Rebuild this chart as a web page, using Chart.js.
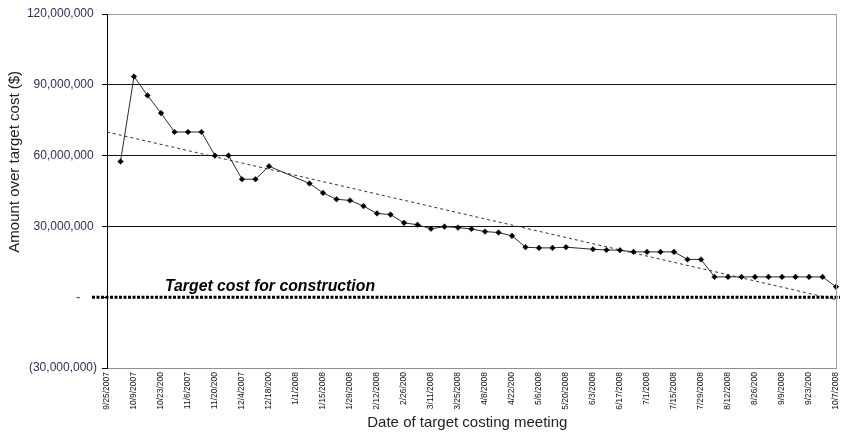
<!DOCTYPE html>
<html><head><meta charset="utf-8">
<script src="https://cdn.jsdelivr.net/npm/chart.js@4.4.0/dist/chart.umd.min.js"></script>
<style>html,body{margin:0;padding:0;background:#fff;}#wrap{width:841px;height:433px;position:relative;}canvas{display:block;}</style>
</head><body><div id="wrap"><canvas id="c" width="841" height="433" style="width:841px;height:433px"></canvas></div>
<script>
// Weekly meeting dates (category axis, one per week)
const weeks = ["9/25/2007","10/2/2007","10/9/2007","10/16/2007","10/23/2007","10/30/2007","11/6/2007","11/13/2007","11/20/2007","11/27/2007","12/4/2007","12/11/2007","12/18/2007","12/25/2007","1/1/2008","1/8/2008","1/15/2008","1/22/2008","1/29/2008","2/5/2008","2/12/2008","2/19/2008","2/26/2008","3/4/2008","3/11/2008","3/18/2008","3/25/2008","4/1/2008","4/8/2008","4/15/2008","4/22/2008","4/29/2008","5/6/2008","5/13/2008","5/20/2008","5/27/2008","6/3/2008","6/10/2008","6/17/2008","6/24/2008","7/1/2008","7/8/2008","7/15/2008","7/22/2008","7/29/2008","8/5/2008","8/12/2008","8/19/2008","8/26/2008","9/2/2008","9/9/2008","9/16/2008","9/23/2008","9/30/2008","10/7/2008"];
// Tick labels as printed (every second week)
const tickLabels = ["9/25/2007","10/9/2007","10/23/200","11/6/2007","11/20/200","12/4/2007","12/18/200","1/1/2008","1/15/2008","1/29/2008","2/12/2008","2/26/200","3/11/2008","3/25/2008","4/8/2008","4/22/200","5/6/2008","5/20/2008","6/3/2008","6/17/2008","7/1/2008","7/15/2008","7/29/2008","8/12/2008","8/26/200","9/9/2008","9/23/200","10/7/2008"];
// Amount over target cost ($), null = no meeting that week
const amountOver = [null,57500000,93500000,85500000,78000000,70000000,70000000,70000000,60000000,60000000,50000000,50000000,55500000,null,null,48200000,44200000,41500000,41000000,38600000,35500000,35000000,31500000,30700000,29000000,29900000,29500000,28900000,27800000,27400000,26000000,21200000,20900000,20900000,21200000,null,20300000,20000000,19900000,19200000,19200000,19200000,19200000,16000000,16000000,8600000,8600000,8600000,8600000,8600000,8600000,8600000,8600000,8600000,4400000];
// Linear trend line end values (first and last week)
const trendEnds = [70000000, -1000000];
const yTicks = [-30000000, 0, 30000000, 60000000, 90000000, 120000000];

const trendData = weeks.map((w, i) => i === 0 ? trendEnds[0] : (i === weeks.length - 1 ? trendEnds[1] : null));

function fmt(v) {
  const s = String(Math.abs(v)).replace(/\B(?=(\d{3})+(?!\d))/g, ',');
  if (v === 0) return '-     ';
  if (v < 0) return '(' + s + ')';
  return s + ' ';
}

const targetPlugin = {
  id: 'targetLine',
  afterDatasetsDraw(chart) {
    const {ctx, chartArea, scales} = chart;
    const y0 = scales.y.getPixelForValue(0);
    ctx.save();
    ctx.strokeStyle = '#000';
    ctx.lineWidth = 3;
    ctx.setLineDash([3, 1.5]);
    ctx.beginPath();
    ctx.moveTo(chartArea.left - 15, y0);
    ctx.lineTo(chartArea.right + 4, y0);
    ctx.stroke();
    ctx.setLineDash([]);
    ctx.fillStyle = '#000';
    ctx.font = 'italic bold 15.8px "Liberation Sans", Arial, sans-serif';
    ctx.textBaseline = 'alphabetic';
    ctx.textAlign = 'left';
    ctx.fillText('Target cost for construction', chartArea.left + 58, y0 - 6);
    ctx.strokeStyle = '#a0a0a0';
    ctx.lineWidth = 1;
    ctx.beginPath();
    ctx.moveTo(chartArea.right + 0.5, chartArea.top);
    ctx.lineTo(chartArea.right + 0.5, chartArea.bottom);
    ctx.stroke();
    ctx.restore();
  }
};

new Chart(document.getElementById('c'), {
  type: 'line',
  data: {
    labels: weeks,
    datasets: [
      {
        label: 'Amount over target cost',
        data: amountOver,
        borderColor: '#2a2a2a',
        borderWidth: 1,
        pointStyle: 'rectRot',
        pointRadius: 2.8,
        pointBackgroundColor: '#000',
        pointBorderColor: '#000',
        pointBorderWidth: 0.5,
        spanGaps: true,
        tension: 0
      },
      {
        label: 'Trend',
        data: trendData,
        borderColor: '#333',
        borderWidth: 1,
        borderDash: [3, 3],
        pointRadius: 0,
        spanGaps: true,
        tension: 0
      }
    ]
  },
  options: {
    responsive: false,
    animation: false,
    devicePixelRatio: 1,
    layout: { padding: { left: 0, right: 5, top: 14, bottom: 0 } },
    plugins: { legend: { display: false }, tooltip: { enabled: false } },
    scales: {
      x: {
        type: 'category',
        offset: false,
        grid: { display: false, drawTicks: false },
        border: { display: true, color: '#909090', width: 1 },
        ticks: {
          autoSkip: false,
          maxRotation: 90,
          minRotation: 90,
          padding: 4,
          color: '#111',
          font: { family: '"Liberation Sans", Arial, sans-serif', size: 8.5 },
          callback: function(val, idx) { return idx % 2 === 0 ? tickLabels[idx / 2] : ''; }
        },
        title: {
          display: true,
          text: 'Date of target costing meeting  ',
          color: '#222',
          font: { family: '"Liberation Sans", Arial, sans-serif', size: 15 },
          padding: { top: 0, bottom: 1 }
        },
        afterFit(scale) { scale.height = 65; scale.paddingLeft = 0; scale.paddingRight = 0; }
      },
      y: {
        min: -30000000,
        max: 120000000,
        afterBuildTicks(scale) { scale.ticks = yTicks.map(v => ({ value: v })); },
        grid: {
          color: (c) => {
            const v = c.tick && c.tick.value;
            if (v === 120000000) return '#a0a0a0';
            if (v === 0 || v === -30000000) return 'rgba(0,0,0,0)';
            return '#111';
          },
          tickColor: '#000',
          tickLength: 5,
          lineWidth: 1
        },
        border: { display: true, color: '#000', width: 1 },
        ticks: {
          autoSkip: false,
          padding: 5,
          color: '#2e2e5c',
          font: { family: '"Liberation Sans", Arial, sans-serif', size: 12 },
          callback: (v) => fmt(v)
        },
        title: {
          display: true,
          text: '              Amount over target cost ($)',
          color: '#222',
          font: { family: '"Liberation Sans", Arial, sans-serif', size: 15 },
          padding: { top: 6, bottom: 0 }
        },
        afterFit(scale) { scale.width = 107; scale.paddingTop = 0; scale.paddingBottom = 0; }
      }
    }
  },
  plugins: [targetPlugin]
});
</script>
</body></html>
